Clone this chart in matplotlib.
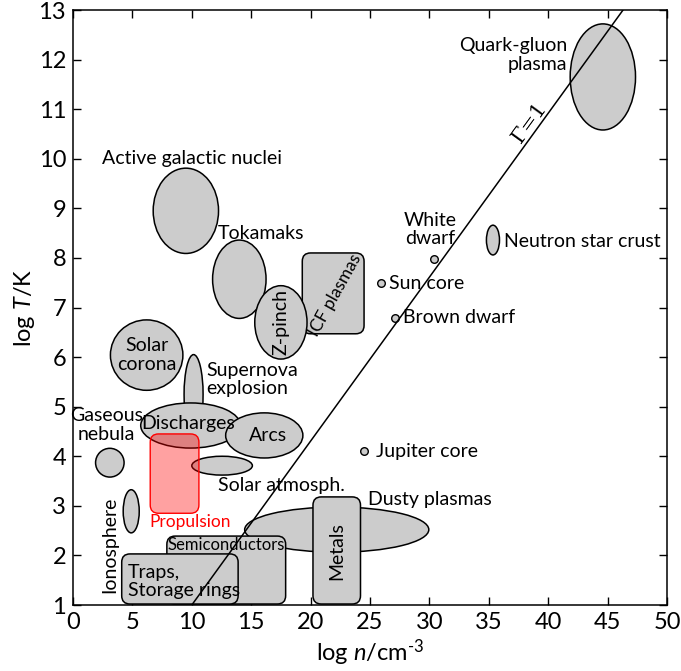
import matplotlib
matplotlib.use("Agg")
import matplotlib.pyplot as plt
from matplotlib.patches import Ellipse, FancyBboxPatch

plt.rcParams['font.family'] = ['Lato', 'DejaVu Sans']
plt.rcParams['mathtext.fontset'] = 'custom'
plt.rcParams['mathtext.rm'] = 'Lato'
plt.rcParams['mathtext.it'] = 'Lato:italic'

# ---- data: elliptical regions (log n centre, log T centre, width, height) ----
ell_names = ["Quark-gluon plasma", "Active galactic nuclei", "Tokamaks", "Solar corona",
             "Supernova explosion", "Discharges", "Arcs", "Gaseous nebula",
             "Solar atmosph.", "Ionosphere", "Dusty plasmas", "Neutron star crust", "Z-pinch"]
ell_x = [44.6, 9.5, 14.0, 6.2, 10.15, 9.9, 16.1, 3.1, 12.55, 4.9, 22.2, 35.35, 17.5]
ell_y = [11.65, 8.95, 7.57, 6.04, 5.25, 4.62, 4.42, 3.87, 3.81, 2.89, 2.52, 8.36, 6.70]
ell_w = [5.5, 5.5, 4.5, 6.1, 1.6, 8.4, 6.5, 2.4, 5.1, 1.35, 15.5, 1.1, 4.4]
ell_h = [2.14, 1.72, 1.58, 1.42, 1.6, 0.91, 0.91, 0.58, 0.38, 0.87, 0.91, 0.6, 1.48]

# ---- data: rectangular regions (x0, x1, y0, y1) ----
rect_names = ["ICF plasmas", "Semiconductors", "Traps, Storage rings", "Metals"]
rect_x0 = [19.3, 7.9, 4.1, 20.2]
rect_x1 = [24.5, 17.9, 13.9, 24.2]
rect_y0 = [6.47, 1.02, 1.02, 1.02]
rect_y1 = [8.10, 2.39, 2.03, 3.18]

# propulsion region
prop_x = [6.5, 10.6]
prop_y = [2.85, 4.45]

# ---- data: point-like objects ----
pt_names = ["White dwarf", "Sun core", "Brown dwarf", "Jupiter core"]
pt_x = [30.4, 25.9, 27.1, 24.5]
pt_y = [7.98, 7.49, 6.79, 4.11]

# ---- data: Gamma = 1 line ----
gamma_x = [10.0, 46.3]
gamma_y = [1.0, 13.0]

xticks = [0, 5, 10, 15, 20, 25, 30, 35, 40, 45, 50]
yticks = [1, 2, 3, 4, 5, 6, 7, 8, 9, 10, 11, 12, 13]

GRAY = "#cccccc"
FS = 14

fig = plt.figure(figsize=(6.81, 6.71), dpi=100)
ax = fig.add_axes([73/681, 1-605/671, (667-73)/681, (605-10)/671])
ax.set_xlim(0, 50)
ax.set_ylim(1, 13)

zorders = {"Supernova explosion": 2, "Discharges": 3, "Arcs": 4, "Dusty plasmas": 2,
           "Z-pinch": 4}
for n, cx, cy, w, h in zip(ell_names, ell_x, ell_y, ell_w, ell_h):
    ax.add_patch(Ellipse((cx, cy), w, h, facecolor=GRAY, edgecolor='black', lw=1.1,
                         zorder=zorders.get(n, 3)))

# rounded rectangles; rounding corrected for axis aspect
px_per_x = (667-73)/50
px_per_y = (605-10)/12
aspect = px_per_x/px_per_y
rz = {"ICF plasmas": 3, "Semiconductors": 3, "Traps, Storage rings": 4, "Metals": 4}
for n, x0, x1, y0, y1 in zip(rect_names, rect_x0, rect_x1, rect_y0, rect_y1):
    ax.add_patch(FancyBboxPatch((x0, y0), x1-x0, y1-y0,
                                boxstyle="round,pad=0,rounding_size=0.7",
                                mutation_aspect=aspect, facecolor=GRAY,
                                edgecolor='black', lw=1.1, zorder=rz[n]))

ax.add_patch(FancyBboxPatch((prop_x[0], prop_y[0]), prop_x[1]-prop_x[0], prop_y[1]-prop_y[0],
                            boxstyle="round,pad=0,rounding_size=0.7",
                            mutation_aspect=aspect, facecolor=(1, 0, 0, 0.37),
                            edgecolor='red', lw=1.0, zorder=5))

ax.scatter(pt_x, pt_y, s=30, facecolor=GRAY, edgecolor='black', linewidths=1.0, zorder=5)

ax.plot(gamma_x, gamma_y, color='black', lw=1.1, zorder=8)

# labels
def T(x, y, s, **kw):
    kw.setdefault('fontsize', FS)
    kw.setdefault('ha', 'left')
    kw.setdefault('va', 'center')
    ax.text(x, y, s, zorder=7, linespacing=1.1, **kw)

T(41.6, 12.09, "Quark-gluon\nplasma", ha='right', multialignment='right')
T(10.0, 10.0, "Active galactic nuclei", ha='center')
T(12.2, 8.50, "Tokamaks")
T(30.05, 8.57, "White\ndwarf", ha='center', multialignment='center')
T(36.25, 8.34, "Neutron star crust")
T(26.6, 7.49, "Sun core")
T(27.75, 6.79, "Brown dwarf")
T(6.23, 6.04, "Solar\ncorona", ha='center', multialignment='center')
T(11.2, 5.55, "Supernova\nexplosion", multialignment='left')
T(2.8, 4.63, "Gaseous\nnebula", ha='center', multialignment='center')
T(9.72, 4.67, "Discharges", ha='center')
T(16.4, 4.41, "Arcs", ha='center')
T(25.5, 4.10, "Jupiter core")
T(12.2, 3.40, "Solar atmosph.")
T(24.8, 3.12, "Dusty plasmas")
T(9.85, 2.67, "Propulsion", ha='center', color='red', fontsize=12.5)
T(3.1, 2.22, "Ionosphere", ha='center', rotation=90)
T(12.9, 2.21, "Semiconductors", ha='center', fontsize=12)
T(4.6, 1.47, "Traps,\nStorage rings", multialignment='left')
T(22.2, 2.09, "Metals", ha='center', rotation=90)
T(17.5, 6.70, "Z-pinch", ha='center', rotation=90)
T(22.1, 7.25, "ICF plasmas", ha='center', rotation=61, fontsize=12.5)

# Gamma = 1 label along the line
ax.text(39.1, 10.62, "Γ=1", fontsize=15, family='DejaVu Serif', rotation=54,
        rotation_mode='anchor', ha='center', va='bottom', zorder=7)

ax.set_xticks(xticks)
ax.set_yticks(yticks)
ax.tick_params(direction='in', length=6, width=1, top=True, right=True,
               labelsize=17, pad=5)
for sp in ax.spines.values():
    sp.set_linewidth(1.1)

ax.set_xlabel(r"log $n$/cm$^{\text{-3}}$", fontsize=17, labelpad=3)
ax.set_ylabel(r"log $T$/K", fontsize=17, labelpad=1)

fig.savefig("out.png", dpi=100)
